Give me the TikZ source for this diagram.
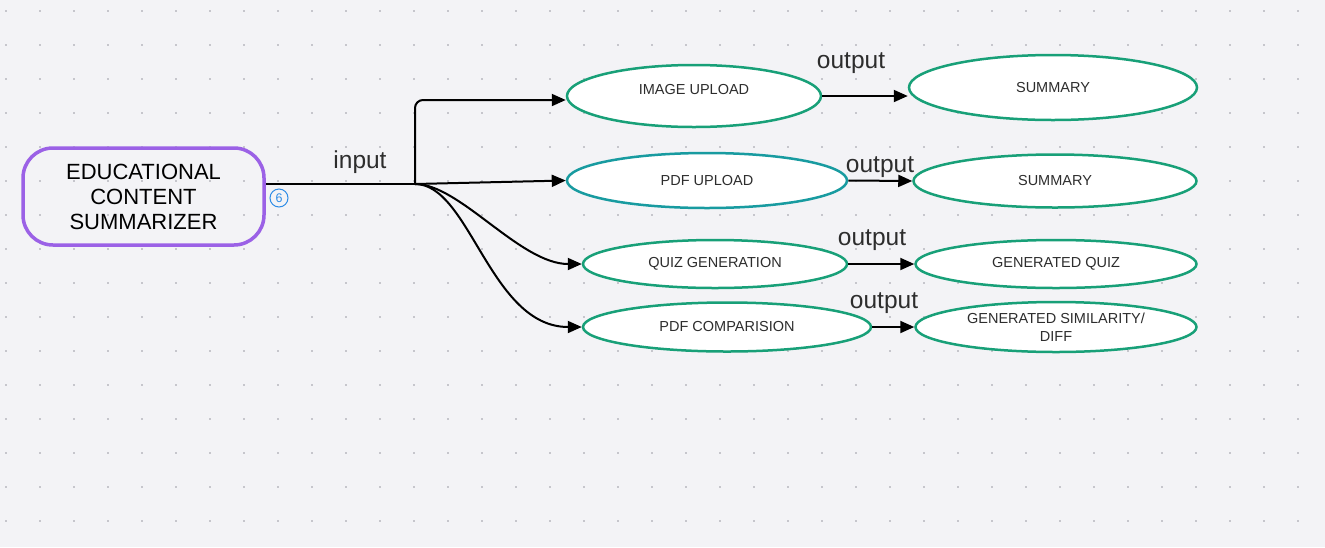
\documentclass[tikz,border=0pt]{standalone}
\usepackage{fontspec}
\setmainfont{Liberation Sans}
\usetikzlibrary{shapes.geometric,arrows.meta}

\definecolor{canvas}{RGB}{243,243,246}
\definecolor{gridDot}{RGB}{198,198,204}
\definecolor{boxPurple}{RGB}{155,97,230}
\definecolor{ellGreen}{RGB}{24,160,120}
\definecolor{ellTeal}{RGB}{24,155,160}
\definecolor{badgeBlue}{RGB}{45,140,230}
\definecolor{labelGrey}{RGB}{45,45,45}

\tikzset{
	topic/.style={draw=boxPurple, line width=3.5pt, rounded corners=30pt, minimum width=241pt, minimum height=97pt, align=center, font=\fontsize{22}{25}\selectfont},
	stage/.style={ellipse, draw=ellGreen, fill=white, line width=2.5pt, inner sep=0pt, text=labelGrey, align=center, font=\fontsize{14.5}{18}\selectfont},
	flow/.style={line width=2pt, -{Triangle[length=14pt,width=12pt]}},
	tag/.style={font=\fontsize{24.5}{27}\selectfont, text=labelGrey}
}

\begin{document}
\begin{tikzpicture}[x=1pt, y=-1pt]
	\fill[canvas] (0,0) rectangle (1325,547);
	\useasboundingbox (0,0) rectangle (1325,547);

	% dotted canvas
	\foreach \i in {0,...,38}
	\foreach \j in {0,...,15}
	\fill[gridDot] ({6+34*\i-1.3},{11+34*\j-1.3}) rectangle ++(2.6,2.6);

	% main topic
	\node[topic] (edu) at (143.5,196.5) {EDUCATIONAL\\CONTENT\\SUMMARIZER};
	\node[circle, draw=badgeBlue, line width=1pt, minimum size=18pt, inner sep=0pt, text=badgeBlue, font=\fontsize{12.5}{12.5}\selectfont] (badge) at (279,198) {6};

	% inputs
	\node[stage, minimum width=254pt, minimum height=62pt] (img) at (694,96) {\raisebox{14pt}{IMAGE UPLOAD}};
	\node[stage, draw=ellTeal, minimum width=280pt, minimum height=55pt] (pdf) at (707,180.5) {PDF UPLOAD};
	\node[stage, minimum width=264pt, minimum height=48pt] (quiz) at (715,264) {QUIZ GENERATION};
	\node[stage, minimum width=288pt, minimum height=49pt] (cmp) at (727,327) {PDF COMPARISION};

	% outputs
	\node[stage, minimum width=288pt, minimum height=65pt] (sumA) at (1053,87.5) {SUMMARY};
	\node[stage, minimum width=283pt, minimum height=53pt] (sumB) at (1055,181) {SUMMARY};
	\node[stage, minimum width=281pt, minimum height=48pt] (gquiz) at (1056,264) {GENERATED QUIZ};
	\node[stage, minimum width=281pt, minimum height=50pt] (gsim) at (1056,327) {GENERATED SIMILARITY/\\DIFF};

	% connectors
	\coordinate (hub) at (415,184);
	\draw[line width=2pt] (edu.east |- hub) -- (hub);
	\draw[flow, rounded corners=8pt] (hub) |- ([yshift=-4pt]img.west);
	\draw[flow] (hub) -- (pdf.west);
	\draw[flow] (hub) .. controls (460,184) and (520,264) .. (quiz.west);
	\draw[flow] (hub) .. controls (470,184) and (490,327) .. (cmp.west);

	\draw[flow] (img.east) -- (img.east -| sumA.west);
	\draw[flow] (pdf.east) -- (sumB.west);
	\draw[flow] (quiz.east) -- (gquiz.west);
	\draw[flow] (cmp.east) -- (gsim.west);

	% labels
	\node[tag] (inTag) at (360,162) {input};
	\node[tag] (outA) at (851,63) {output};
	\node[tag] (outB) at (880,167) {output};
	\node[tag] (outC) at (872,240) {output};
	\node[tag] (outD) at (884,303) {output};
\end{tikzpicture}
\end{document}
